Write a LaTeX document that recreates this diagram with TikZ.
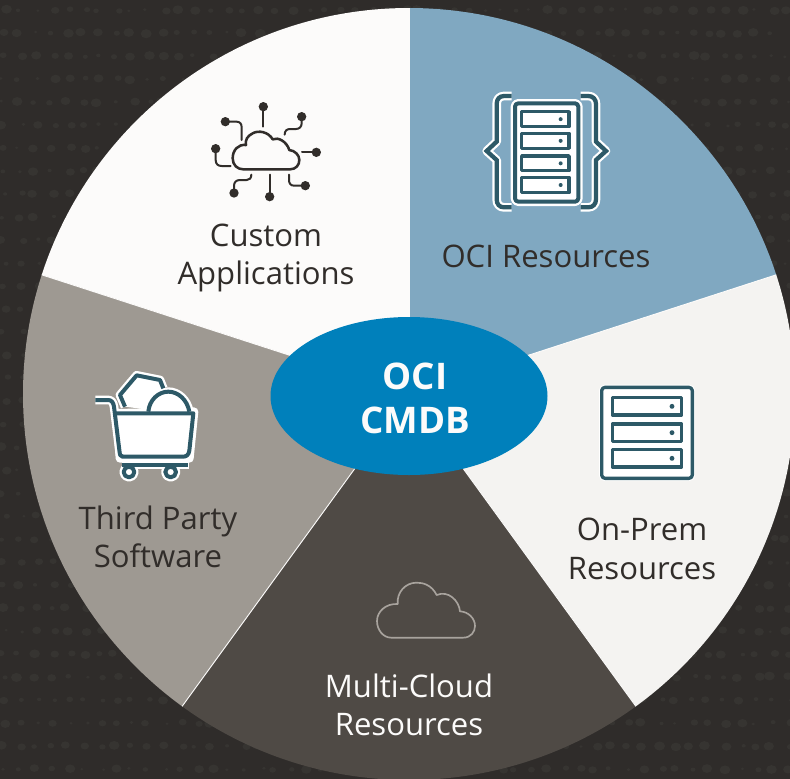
\documentclass[tikz,border=0pt]{standalone}
\usepackage{fontspec}
\usetikzlibrary{shapes.geometric}
\setmainfont{Open Sans}
\definecolor{bgdark}{HTML}{2F2C2A}
\definecolor{bgdot}{HTML}{363431}
\definecolor{segcustom}{HTML}{FCFBFA}
\definecolor{segoci}{HTML}{80A8C1}
\definecolor{segprem}{HTML}{F4F3F1}
\definecolor{segmulti}{HTML}{4F4A45}
\definecolor{segthird}{HTML}{9E9992}
\definecolor{hubblue}{HTML}{0080BB}
\definecolor{icondark}{HTML}{2D5967}
\definecolor{inkdark}{HTML}{312D2A}
\definecolor{cloudline}{HTML}{A8A39D}
\tikzset{
  seam/.style={draw=segcustom,line width=0.7pt},
  label/.style={align=center,text=inkdark,inner sep=0pt,font=\fontsize{23.3}{29}\selectfont},
  labellight/.style={label,text=segcustom},
  hubshape/.style={ellipse,fill=hubblue,inner sep=0pt,minimum width=207.75pt,minimum height=118.5pt},
  hubtext/.style={align=center,text=segcustom,inner sep=0pt,font=\fontsize{27.5}{33}\selectfont\bfseries},
  zoomed/.style={xscale=1/3,yscale=1/3},
  teal/.style={draw=icondark,line width=#1*1pt,line join=round},
  halo/.style={draw=white,line width=#1*1pt,line join=round},
  ink/.style={draw=inkdark,line width=#1*1pt,line cap=round,line join=round},
}
\begin{document}
\begin{tikzpicture}[x=0.75pt,y=-0.75pt]
\useasboundingbox (0,0) rectangle (790,779);
\begin{scope}
\clip (0,0) rectangle (790,779);
\fill[bgdark] (0,0) rectangle (790,779);
% faint dotted background
\pgfmathsetseed{4711}
\foreach \r in {0,...,33}{
  \foreach \c in {0,...,50}{
    \pgfmathsetmacro{\dx}{\c*16+8*rnd}
    \pgfmathsetmacro{\dy}{10+\r*23+2*rnd-1}
    \pgfmathsetmacro{\dr}{1.5+4*rnd}
    \fill[bgdot] (\dx,\dy) ellipse[x radius=\dr*0.75pt,y radius=\dr*0.62pt];
  }
}
% pie
\begin{scope}
\clip (409,394) circle[radius=289.5pt];
\fill[segcustom] (409,394) -- (409,-406) -- (-179,-415) -- (-352,147) -- cycle;
\fill[segoci] (409,394) -- (409,-406) -- (997,-415) -- (1170,147) -- cycle;
\fill[segprem] (409,394) -- (1170,147) -- (1360,703) -- (879,1041) -- cycle;
\fill[segmulti] (409,394) -- (879,1041) -- (409,1394) -- (-61,1041) -- cycle;
\fill[segthird] (409,394) -- (-61,1041) -- (-542,703) -- (-352,147) -- cycle;
\draw[seam] (409,394) -- (409,-406);
\draw[seam] (409,394) -- (1170,147);
\draw[seam] (409,394) -- (879,1041);
\draw[seam] (409,394) -- (-61,1041);
\draw[seam] (409,394) -- (-352,147);
\end{scope}
\end{scope}
% custom applications icon
\begin{scope}[shift={(190,90)},zoomed]
\draw[ink=1.9] (160,238) -- (300,238) .. controls (318,238) and (328,225) .. (328,210) .. controls (328,195) and (315,182) .. (298,180)
  .. controls (290,155) and (265,140) .. (248,148) .. controls (235,125) and (205,120) .. (188,130) .. controls (172,138) and (165,150) .. (168,165)
  .. controls (145,162) and (128,180) .. (128,205) .. controls (128,225) and (142,238) .. (160,238) -- cycle;
\draw[ink=1.5] (220,50) -- (220,110);
\draw[ink=1.5] (106,95) -- (140,95) .. controls (150,95) and (155,102) .. (155,112) -- (155,150);
\draw[ink=1.5] (335,80) -- (335,100) .. controls (335,110) and (328,117) .. (318,117) -- (300,117) .. controls (290,117) and (284,123) .. (284,134);
\draw[ink=1.5] (77,176) -- (77,210) .. controls (77,222) and (84,228) .. (95,228) -- (122,228);
\draw[ink=1.5] (379,187) -- (336,187);
\draw[ink=1.5] (346,287) -- (312,287) .. controls (302,287) and (297,280) .. (297,270) -- (297,254);
\draw[ink=1.5] (239,320) -- (239,254);
\draw[ink=1.5] (132,309) -- (132,288) .. controls (132,277) and (138,270) .. (150,270) -- (170,270) .. controls (178,270) and (184,265) .. (184,254);
\foreach \px/\py in {220/50,106/95,335/80,77/176,379/187,346/287,239/320,132/309}
  \fill[inkdark] (\px,\py) circle[radius=10.5pt];
\end{scope}
% OCI resources icon
\begin{scope}[shift={(470,80)},zoomed]
\def\bl{(125,48) -- (102,48) .. controls (88,48) and (80,58) .. (80,72) -- (80,185) -- (50,213) -- (80,240) -- (80,358) .. controls (80,372) and (88,382) .. (102,382) -- (125,382)}
\def\br{(332,48) -- (355,48) .. controls (369,48) and (378,58) .. (378,72) -- (378,185) -- (408,213) -- (378,240) -- (378,358) .. controls (378,372) and (369,382) .. (355,382) -- (332,382)}
\draw[halo=6.5] \bl;
\draw[halo=6.5] \br;
\draw[icondark,line width=3.2pt,line join=miter] \bl;
\draw[icondark,line width=3.2pt,line join=miter] \br;
\draw[halo=6.5,fill=white,rounded corners=2.5pt] (135,70) rectangle (325,365);
\draw[teal=3,fill=white,rounded corners=2.5pt] (135,70) rectangle (325,365);
\foreach \ya/\yb in {95/140,160/205,228/272,292/338}{
  \draw[teal=2.6,fill=white] (155,\ya) rectangle (297,\yb);
  \fill[icondark] (272,{(\ya+\yb)/2}) circle[radius=4.5pt];
}
\end{scope}
% on-prem icon
\begin{scope}[shift={(590,375)},zoomed]
\draw[draw=white,line width=4pt,fill=white,rounded corners=2.5pt] (35,37) rectangle (307,310);
\draw[teal=2.5,fill=white,rounded corners=2.5pt] (35,37) rectangle (307,310);
\foreach \ya/\yb in {68/120,147/199,224/276}{
  \draw[teal=2.3,fill=white] (67,\ya) rectangle (275,\yb);
  \fill[icondark] (246,{(\ya+\yb)/2}) circle[radius=5.5pt];
}
\end{scope}
% multi-cloud icon
\begin{scope}[shift={(365,570)},zoomed]
\draw[cloudline,line width=1.25pt,line join=round] (78,203) -- (295,203) .. controls (318,203) and (330,185) .. (330,168) .. controls (330,145) and (310,125) .. (285,124)
  .. controls (282,92) and (250,60) .. (215,75) .. controls (200,45) and (175,38) .. (155,38) .. controls (120,38) and (95,68) .. (98,102)
  .. controls (62,100) and (36,125) .. (36,153) .. controls (36,180) and (55,203) .. (78,203) -- cycle;
\end{scope}
% third party icon
\begin{scope}[shift={(80,360)},zoomed]
\def\hnd{(46,120) -- (85,120) .. controls (95,120) and (100,128) .. (102,140) -- (118,270) .. controls (120,285) and (120,290) .. (128,290)}
\def\gem{(135,140) -- (120,105) -- (170,46) -- (240,60) -- (250,85)}
\def\dome{(205,155) .. controls (208,120) and (235,95) .. (265,95) .. controls (295,95) and (322,120) .. (328,155)}
\draw[halo=6.5,fill=white,line cap=round] (110,160) -- (120,295) -- (328,295) -- (342,155) -- (326,155) -- cycle;
\draw[halo=6.5] \gem;
\fill[white] (135,140) -- (120,105) -- (170,46) -- (240,60) -- (250,85) -- (250,155) -- cycle;
\draw[halo=6.5,fill=white] \dome -- cycle;
\draw[halo=6.5] \hnd;
\draw[halo=6.5] (125,315) -- (326,315);
\draw[halo=6.5,fill=white] (147,336) circle[radius=12pt];
\draw[halo=6.5,fill=white] (272,336) circle[radius=12pt];
\fill[white] (135,300) rectangle (300,312);
\draw[teal=3] \gem;
\draw[teal=3,fill=white] \dome;
\fill[white] (120,165) -- (334,165) -- (324,285) -- (130,285) -- cycle;
\draw[teal=3] (105,160) -- (340,160) -- (328,272) .. controls (326,285) and (319,290) .. (309,290) -- (125,290);
\draw[teal=3] \hnd;
\draw[teal=3] (125,315) -- (324,315);
\draw[teal=3,fill=white] (147,336) circle[radius=12pt];
\draw[teal=3,fill=white] (272,336) circle[radius=12pt];
\end{scope}
% hub
\node[hubshape] (hub) at (409,396) {};
\node[hubtext] (hubtitle) at (415,398) {OCI\\CMDB};
% labels
\node[label] (custom) at (266,258) {Custom\\Applications};
\node[label] (ociRes) at (546,256) {OCI Resources};
\node[label] (onprem) at (642,549) {On-Prem\\Resources};
\node[labellight] (multi) at (409,705) {Multi-Cloud\\Resources};
\node[label] (third) at (158,537) {Third Party\\Software};
\end{tikzpicture}
\end{document}
